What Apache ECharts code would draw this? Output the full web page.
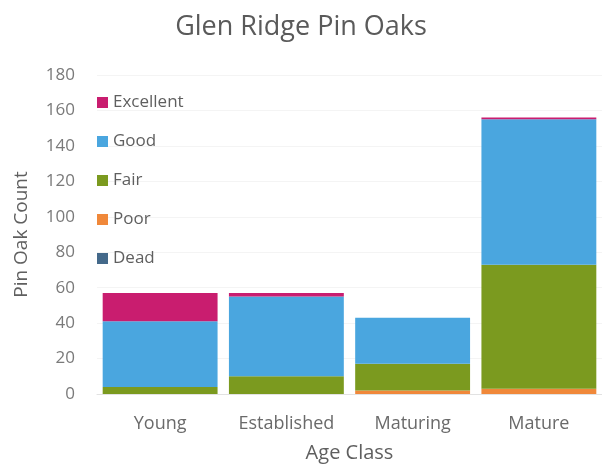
<!DOCTYPE html>
<html>
<head>
<meta charset="utf-8">
<script src="https://cdn.jsdelivr.net/npm/echarts@6/dist/echarts.min.js"></script>
<style>
  html, body { margin: 0; padding: 0; background: #ffffff; }
  #chart { width: 602px; height: 468px; }
</style>
</head>
<body>
<div id="chart"></div>
<script>
// Age classes along the x axis
const categories = ['Young', 'Established', 'Maturing', 'Mature'];

// Tree counts by condition, one value per age class
const dead      = [0, 0, 0, 0];
const poor      = [0, 0, 2, 3];
const fair      = [4, 10, 15, 70];
const good      = [37, 45, 26, 82];
const excellent = [16, 2, 0, 1];

const yTicks = [0, 20, 40, 60, 80, 100, 120, 140, 160, 180];

const colors = {
  Dead: '#44698a',
  Poor: '#f0883a',
  Fair: '#7b9a1f',
  Good: '#4aa6df',
  Excellent: '#c91d6f'
};

const font = 'Open Sans, sans-serif';

function bar(name, data) {
  return {
    name: name,
    type: 'bar',
    stack: 'total',
    data: data,
    barCategoryGap: '9%',
    itemStyle: { color: colors[name] }
  };
}

const chart = echarts.init(document.getElementById('chart'), null, { renderer: 'canvas' });
chart.setOption({
  backgroundColor: '#ffffff',
  animation: false,
  title: {
    text: 'Glen Ridge Pin Oaks',
    left: 'center',
    top: 9,
    textStyle: { fontFamily: font, fontSize: 27, fontWeight: 'normal', color: '#5a5a5a' }
  },
  legend: {
    orient: 'vertical',
    left: 92,
    top: 89,
    itemGap: 22,
    itemWidth: 11,
    itemHeight: 11,
    icon: 'rect',
    data: ['Excellent', 'Good', 'Fair', 'Poor', 'Dead'],
    textStyle: { fontFamily: font, fontSize: 17, color: '#5f5f5f' }
  },
  grid: { left: 97, right: -3, top: 75, bottom: 74 },
  xAxis: {
    type: 'category',
    data: categories,
    name: 'Age Class',
    nameLocation: 'middle',
    nameGap: 49,
    nameTextStyle: { fontFamily: font, fontSize: 20, color: '#5f5f5f' },
    axisLine: { show: true, lineStyle: { color: '#e2e2e2' } },
    axisTick: { show: false },
    axisLabel: { fontFamily: font, fontSize: 18, color: '#6a6a6a', margin: 21 }
  },
  yAxis: {
    type: 'value',
    min: yTicks[0],
    max: yTicks[yTicks.length - 1],
    interval: 20,
    name: 'Pin Oak Count',
    nameLocation: 'middle',
    nameGap: 66,
    nameTextStyle: { fontFamily: font, fontSize: 19, color: '#5f5f5f' },
    axisLine: { show: false },
    axisTick: { show: false },
    splitLine: { show: true, lineStyle: { color: '#f4f4f4' } },
    axisLabel: { fontFamily: font, fontSize: 17, color: '#7a7a7a', margin: 22 }
  },
  series: [
    bar('Dead', dead),
    bar('Poor', poor),
    bar('Fair', fair),
    bar('Good', good),
    bar('Excellent', excellent)
  ]
});
</script>
</body>
</html>
